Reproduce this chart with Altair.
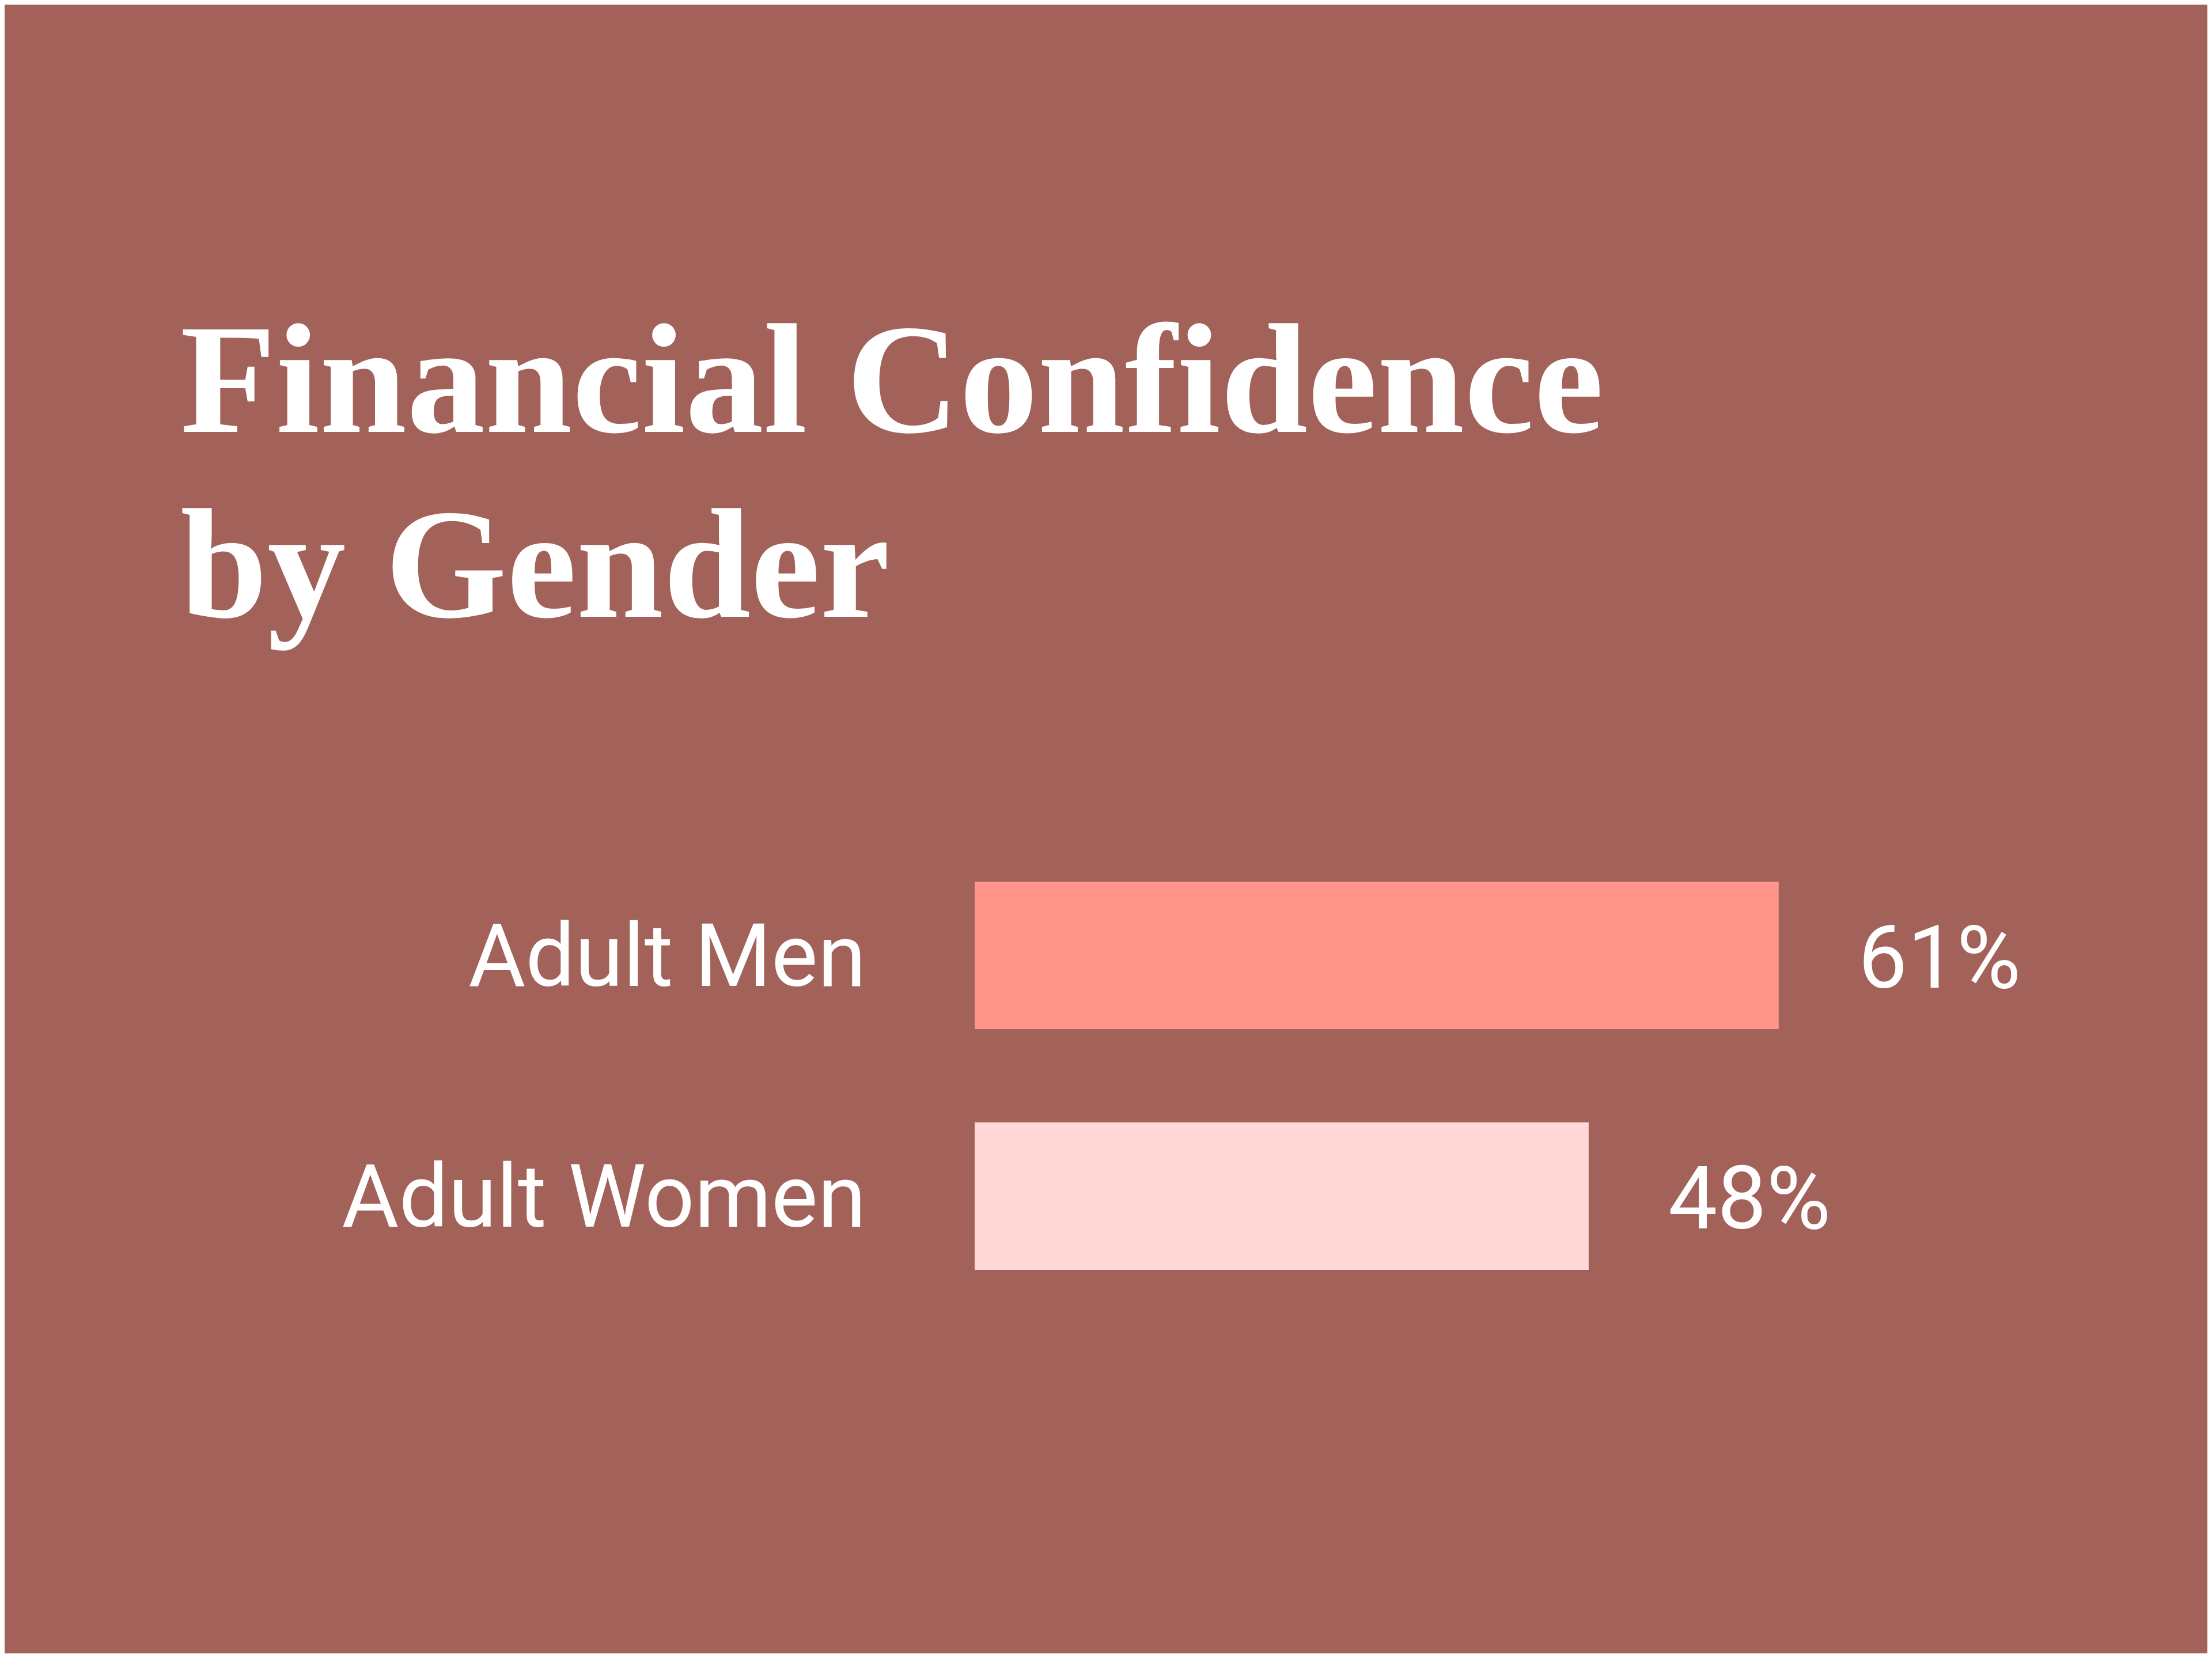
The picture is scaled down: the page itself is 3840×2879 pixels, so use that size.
import altair as alt
import pandas as pd

# ---- data ----
categories = ["Adult Men", "Adult Women"]
values = [61, 48]
labels = ["61%", "48%"]

title_lines = ["Financial Confidence", "by Gender"]

BG = "#A36259"
BAR_COLORS = ["#FF958A", "#FFD8D8"]

df = pd.DataFrame({"group": categories, "value": values, "label": labels})

y = alt.Y(
    "group:N",
    sort=categories,
    scale=alt.Scale(paddingInner=0.3876, paddingOuter=0.1938),
    axis=alt.Axis(
        title=None, domain=False, ticks=False, tickSize=0, grid=False,
        labelFont="Roboto", labelFontSize=152, labelColor="white",
        labelPadding=189, labelOffset=7, labelLimit=2000,
    ),
)
x = alt.X("value:Q", scale=alt.Scale(domain=[6, 80], zero=False, nice=False), axis=None)

bars = alt.Chart(df).mark_bar(clip=True).encode(
    x=x,
    y=y,
    color=alt.Color("group:N", scale=alt.Scale(domain=categories, range=BAR_COLORS), legend=None),
)

text = alt.Chart(df).mark_text(
    align="left", baseline="middle", dx=138, dy=10,
    font="Roboto", fontSize=152, color="white",
).encode(x=x, y=y, text="label:N")

chart = alt.layer(bars, text).properties(
    width=1878,
    height=836,
    title=alt.Title(
        title_lines,
        font="Liberation Serif", fontWeight="bold", fontSize=272, lineHeight=321,
        color="white", anchor="start", frame="group", dx=-1379, offset=322,
    ),
    padding={"left": 1684, "top": 1442, "right": 262, "bottom": 585},
    autosize=alt.AutoSizeParams(type="none"),
    background=BG,
).configure_view(stroke=None)

chart.save("out.html", embed_options={"renderer": "svg", "actions": False})
